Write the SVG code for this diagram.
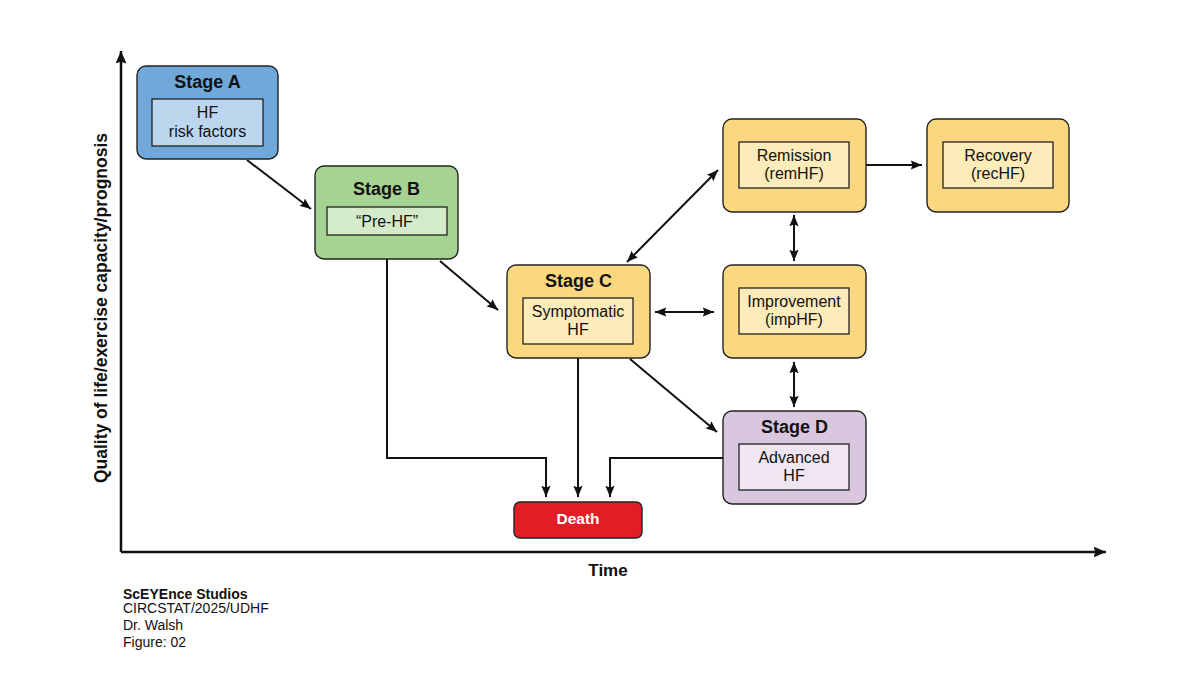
<svg xmlns="http://www.w3.org/2000/svg" width="1200" height="675" viewBox="0 0 1200 675">
<style>
  text { font-family: "Liberation Sans", Arial, sans-serif; fill: #111; }
  .title { font-size: 18px; font-weight: bold; text-anchor: middle; }
  .inner { font-size: 16px; text-anchor: middle; }
  .box { stroke: #222; stroke-width: 1.4; }
  .ib { stroke: #222; stroke-width: 1.3; }
  .conn { fill: none; stroke: #111; stroke-width: 2; }
  .axis { fill: none; stroke: #111; stroke-width: 2.5; }
  .foot { font-size: 14px; }
</style>
<defs>
  <marker id="ah" viewBox="0 0 10 10" refX="10" refY="5" markerWidth="5.6" markerHeight="4.6" orient="auto-start-reverse" markerUnits="strokeWidth" preserveAspectRatio="none">
    <path d="M0,0 L10,5 L0,10 L1.5,5 z" fill="#111"/>
  </marker>
  <marker id="axh" viewBox="0 0 10 10" refX="10" refY="5" markerWidth="5" markerHeight="4.4" orient="auto" markerUnits="strokeWidth" preserveAspectRatio="none">
    <path d="M0,0 L10,5 L0,10 L1.5,5 z" fill="#111"/>
  </marker>
</defs>
<rect width="1200" height="675" fill="#fff"/>

<g id="axes">
  <path class="axis" d="M121,552 V51" marker-end="url(#axh)"/>
  <path class="axis" d="M121,552 H1106" marker-end="url(#axh)"/>
  <text x="608" y="576" font-size="17" font-weight="bold" text-anchor="middle">Time</text>
  <text transform="translate(107,308) rotate(-90)" font-size="17.5" font-weight="bold" text-anchor="middle">Quality of life/exercise capacity/prognosis</text>
</g>

<g id="connectors">
  <path class="conn" d="M247,160 L311,209" marker-end="url(#ah)"/>
  <path class="conn" d="M440,261 L498,310" marker-end="url(#ah)"/>
  <path class="conn" d="M387,259 V458 H546 V497" marker-end="url(#ah)"/>
  <path class="conn" d="M578,358 V497" marker-end="url(#ah)"/>
  <path class="conn" d="M723,458 H610 V497" marker-end="url(#ah)"/>
  <path class="conn" d="M630,359 L717,432" marker-end="url(#ah)"/>
  <path class="conn" d="M655,312 H714" marker-start="url(#ah)" marker-end="url(#ah)"/>
  <path class="conn" d="M794,362 V407" marker-start="url(#ah)" marker-end="url(#ah)"/>
  <path class="conn" d="M794,215 V261" marker-start="url(#ah)" marker-end="url(#ah)"/>
  <path class="conn" d="M627,262 L718,170" marker-start="url(#ah)" marker-end="url(#ah)"/>
  <path class="conn" d="M866,165 H922" marker-end="url(#ah)"/>
</g>

<g id="stageA">
  <rect class="box" x="137" y="66" width="141" height="93" rx="9" fill="#6fa8d9"/>
  <text class="title" x="207.5" y="88">Stage A</text>
  <rect class="ib" x="152" y="99" width="111" height="47" fill="#bcd6ee"/>
  <text class="inner" x="207.5" y="118">HF</text>
  <text class="inner" x="207.5" y="137">risk factors</text>
</g>

<g id="stageB">
  <rect class="box" x="315" y="166" width="143" height="93" rx="9" fill="#a6d391"/>
  <text class="title" x="386.5" y="195">Stage B</text>
  <rect class="ib" x="327" y="207" width="120" height="28" fill="#d4ebc9"/>
  <text class="inner" x="387" y="227">“Pre-HF”</text>
</g>

<g id="stageC">
  <rect class="box" x="507" y="265" width="143" height="93" rx="9" fill="#fbd87f"/>
  <text class="title" x="578.5" y="287">Stage C</text>
  <rect class="ib" x="523" y="298" width="110" height="46" fill="#fdebb9"/>
  <text class="inner" x="578" y="317">Symptomatic</text>
  <text class="inner" x="578" y="335">HF</text>
</g>

<g id="remission">
  <rect class="box" x="723" y="119" width="143" height="93" rx="9" fill="#fbd87f"/>
  <rect class="ib" x="739" y="142" width="110" height="46" fill="#fdebb9"/>
  <text class="inner" x="794" y="161">Remission</text>
  <text class="inner" x="794" y="179">(remHF)</text>
</g>

<g id="recovery">
  <rect class="box" x="927" y="119" width="142" height="93" rx="9" fill="#fbd87f"/>
  <rect class="ib" x="943" y="142" width="110" height="46" fill="#fdebb9"/>
  <text class="inner" x="998" y="161">Recovery</text>
  <text class="inner" x="998" y="179">(recHF)</text>
</g>

<g id="improvement">
  <rect class="box" x="723" y="265" width="143" height="93" rx="9" fill="#fbd87f"/>
  <rect class="ib" x="739" y="288" width="110" height="46" fill="#fdebb9"/>
  <text class="inner" x="794" y="307">Improvement</text>
  <text class="inner" x="794" y="325">(impHF)</text>
</g>

<g id="stageD">
  <rect class="box" x="723" y="411" width="143" height="93" rx="9" fill="#d9c6df"/>
  <text class="title" x="794.5" y="433">Stage D</text>
  <rect class="ib" x="739" y="444" width="110" height="46" fill="#efe6f2"/>
  <text class="inner" x="794" y="463">Advanced</text>
  <text class="inner" x="794" y="481">HF</text>
</g>

<g id="death">
  <rect class="box" x="514" y="502" width="128" height="36" rx="6" fill="#e21d25"/>
  <text x="578" y="524" font-size="15.5" font-weight="bold" text-anchor="middle" style="fill:#fff">Death</text>
</g>

<g id="footer">
  <text class="foot" x="123" y="599" font-weight="bold">ScEYEnce Studios</text>
  <text class="foot" x="123" y="613">CIRCSTAT/2025/UDHF</text>
  <text class="foot" x="123" y="630">Dr. Walsh</text>
  <text class="foot" x="123" y="647">Figure: 02</text>
</g>
</svg>
